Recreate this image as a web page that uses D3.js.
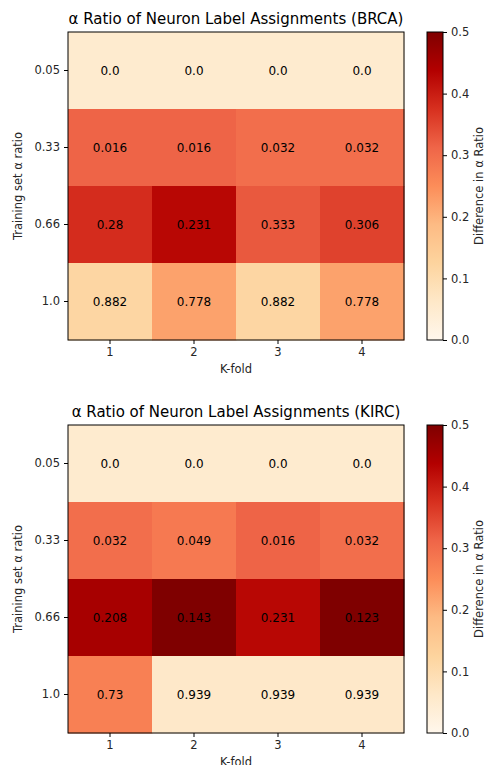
<!DOCTYPE html>
<html>
<head>
<meta charset="utf-8">
<script src="https://cdn.jsdelivr.net/npm/d3@7"></script>
<style>
    body { margin: 0; background: #fff; }
    svg { font-family: "DejaVu Sans", sans-serif; display: block; }
    .tick line, .domain { stroke: #000; }
</style>
</head>
<body>
<div id="chart"></div>
<script>
// --- data ---
const kfolds = ['1', '2', '3', '4'];
const trainRatios = ['0.05', '0.33', '0.66', '1.0'];

// numbers printed in the cells
const brcaValues = [
    [0.0, 0.0, 0.0, 0.0],
    [0.016, 0.016, 0.032, 0.032],
    [0.28, 0.231, 0.333, 0.306],
    [0.882, 0.778, 0.882, 0.778]
];
const kircValues = [
    [0.0, 0.0, 0.0, 0.0],
    [0.032, 0.049, 0.016, 0.032],
    [0.208, 0.143, 0.231, 0.123],
    [0.73, 0.939, 0.939, 0.939]
];

// difference values that drive the cell colours
const brcaDiff = [
    [0.05, 0.05, 0.05, 0.05],
    [0.314, 0.314, 0.298, 0.298],
    [0.38, 0.429, 0.327, 0.354],
    [0.118, 0.222, 0.118, 0.222]
];
const kircDiff = [
    [0.05, 0.05, 0.05, 0.05],
    [0.298, 0.281, 0.314, 0.298],
    [0.452, 0.517, 0.429, 0.537],
    [0.27, 0.061, 0.061, 0.061]
];

const colorTicks = [0.0, 0.1, 0.2, 0.3, 0.4, 0.5];

// matplotlib OrRd anchors
const orRd = ['#fff7ec', '#fee8c8', '#fdd49e', '#fdbb84', '#fc8d59',
              '#ef6548', '#d7301f', '#b30000', '#7f0000'];
const vmin = 0, vmax = 0.5;
const color = d3.scaleLinear()
    .domain(orRd.map((c, i) => vmin + (vmax - vmin) * i / (orRd.length - 1)))
    .range(orRd)
    .clamp(true);

const W = 489, H = 765;
const svg = d3.select('#chart').append('svg')
    .attr('width', W).attr('height', H);

const defs = svg.append('defs');
const grad = defs.append('linearGradient')
    .attr('id', 'cbar').attr('x1', 0).attr('x2', 0).attr('y1', 1).attr('y2', 0);
orRd.forEach((c, i) => {
    grad.append('stop').attr('offset', i / (orRd.length - 1)).attr('stop-color', c);
});

function fmt(v) {
    return Number.isInteger(v) ? v.toFixed(1) : String(v);
}

// matplotlib-ish tick text (d3 axis sets its own font on the group)
function styleTicks(a) {
    a.attr('font-family', '"DejaVu Sans", sans-serif').attr('font-size', 11.5);
    a.select('.domain').remove();
    a.selectAll('.tick text').attr('fill', '#262626');
}

function drawPanel(title, values, diffs, top) {
    const left = 68, right = 404, bottom = top + 308;
    const g = svg.append('g');

    const x = d3.scaleBand().domain(kfolds).range([left, right]);
    const y = d3.scaleBand().domain(trainRatios).range([top, bottom]);

    // cells
    trainRatios.forEach((r, i) => {
        kfolds.forEach((k, j) => {
            g.append('rect')
                .attr('x', x(k)).attr('y', y(r))
                .attr('width', x.bandwidth() + 0.5).attr('height', y.bandwidth() + 0.5)
                .attr('fill', color(diffs[i][j]));
            g.append('text')
                .attr('x', x(k) + x.bandwidth() / 2)
                .attr('y', y(r) + y.bandwidth() / 2)
                .attr('dy', '0.35em')
                .attr('text-anchor', 'middle')
                .attr('font-size', 12)
                .attr('fill', '#000')
                .text(fmt(values[i][j]));
        });
    });

    // frame
    g.append('rect')
        .attr('x', left).attr('y', top)
        .attr('width', right - left).attr('height', bottom - top)
        .attr('fill', 'none').attr('stroke', '#000').attr('stroke-width', 1);

    g.append('g')
        .attr('transform', `translate(0,${bottom})`)
        .call(d3.axisBottom(x).tickSize(4).tickPadding(4))
        .call(styleTicks);

    g.append('g')
        .attr('transform', `translate(${left},0)`)
        .call(d3.axisLeft(y).tickSize(4).tickPadding(4))
        .call(styleTicks);

    g.append('text')
        .attr('x', (left + right) / 2).attr('y', top - 8)
        .attr('text-anchor', 'middle')
        .attr('font-size', 15)
        .attr('font-weight', 'normal')
        .attr('fill', '#000')
        .text(title);

    g.append('text')
        .attr('x', (left + right) / 2).attr('y', bottom + 33)
        .attr('text-anchor', 'middle')
        .attr('font-size', 11.5)
        .attr('fill', '#262626')
        .text('K-fold');

    g.append('text')
        .attr('transform', `translate(22,${(top + bottom) / 2}) rotate(-90)`)
        .attr('text-anchor', 'middle')
        .attr('font-size', 11.5)
        .attr('fill', '#262626')
        .text('Training set α ratio');

    // colorbar
    const cx = 427, cw = 16;
    const cy = d3.scaleLinear().domain([vmin, vmax]).range([bottom, top]);
    g.append('rect')
        .attr('x', cx).attr('y', top)
        .attr('width', cw).attr('height', bottom - top)
        .attr('fill', 'url(#cbar)')
        .attr('stroke', '#000').attr('stroke-width', 1);

    g.append('g')
        .attr('transform', `translate(${cx + cw},0)`)
        .call(d3.axisRight(cy).tickValues(colorTicks).tickFormat(d3.format('.1f'))
            .tickSize(4).tickPadding(4))
        .call(styleTicks);

    g.append('text')
        .attr('transform', `translate(483,${(top + bottom) / 2}) rotate(-90)`)
        .attr('text-anchor', 'middle')
        .attr('font-size', 11.5)
        .attr('fill', '#262626')
        .text('Difference in α Ratio');
}

drawPanel('α Ratio of Neuron Label Assignments (BRCA)', brcaValues, brcaDiff, 32);
drawPanel('α Ratio of Neuron Label Assignments (KIRC)', kircValues, kircDiff, 425);
</script>
</body>
</html>
